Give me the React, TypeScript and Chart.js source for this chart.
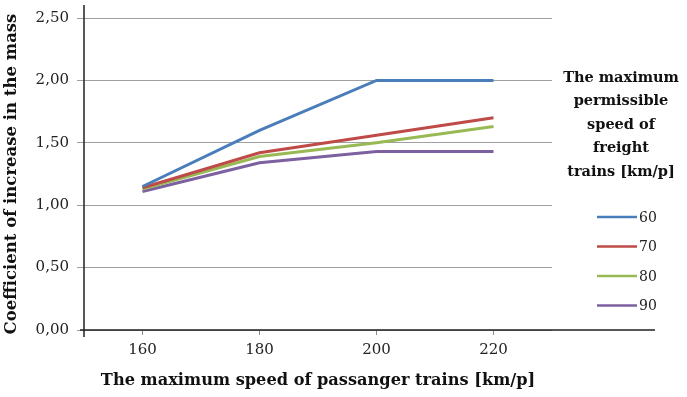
import React, { useEffect, useRef } from "react";
import { Chart, registerables } from "chart.js";

Chart.register(...registerables);

// Passenger train speeds on the category axis
const passengerSpeeds = ["160", "180", "200", "220"];
// Freight train speed for each series
const freightSpeeds = ["60", "70", "80", "90"];
// Coefficient of increase in the mass, one array per freight speed
const coef60 = [1.15, 1.6, 2.0, 2.0];
const coef70 = [1.14, 1.42, 1.56, 1.7];
const coef80 = [1.13, 1.39, 1.5, 1.63];
const coef90 = [1.11, 1.34, 1.43, 1.43];
const seriesColors = ["#4A7EBB", "#BE4B48", "#98B954", "#7D60A0"];

const legendTitleLines = ["The maximum", "permissible", "speed of", "freight", "trains [km/p]"];
const yTitle = "Coefficient of increase in the mass";
const xTitle = "The maximum speed of passanger trains [km/p]";

const SERIF = "'DejaVu Serif', 'Liberation Serif', serif";

// Draws the axis lines and the side legend with its multi-line title
const sideLegend = {
  id: "sideLegend",
  afterDraw(chart: any) {
    const { ctx, chartArea } = chart;
    const { left, right, top, bottom } = chartArea;
    ctx.save();

    // axis lines
    ctx.strokeStyle = "#222";
    ctx.lineWidth = 1.5;
    ctx.beginPath();
    ctx.moveTo(left, top - 13);
    ctx.lineTo(left, bottom + 7);
    ctx.moveTo(left - 4, bottom);
    ctx.lineTo(right + 103, bottom);
    ctx.stroke();

    // legend title
    const cx = right + 69;
    ctx.fillStyle = "#111";
    ctx.font = `bold 14.5px ${SERIF}`;
    ctx.textAlign = "center";
    ctx.textBaseline = "middle";
    legendTitleLines.forEach((line, i) => {
      ctx.fillText(line, cx, 78 + i * 23.5);
    });

    // legend entries
    ctx.font = `14px ${SERIF}`;
    ctx.textAlign = "left";
    chart.data.datasets.forEach((ds: any, i: number) => {
      const y = 217 + i * 29.5;
      ctx.strokeStyle = ds.borderColor;
      ctx.lineWidth = 2.5;
      ctx.beginPath();
      ctx.moveTo(right + 45, y);
      ctx.lineTo(right + 85, y);
      ctx.stroke();
      ctx.fillStyle = "#222";
      ctx.fillText(ds.label, right + 87, y + 1);
    });
    ctx.restore();
  },
};

export default function App() {
  const canvasRef = useRef<HTMLCanvasElement | null>(null);

  useEffect(() => {
    const canvas = canvasRef.current;
    if (!canvas) return;
    const seriesValues = [coef60, coef70, coef80, coef90];
    const chart = new Chart(canvas, {
      type: "line",
      data: {
        labels: passengerSpeeds,
        datasets: freightSpeeds.map((label, i) => ({
          label,
          data: seriesValues[i],
          borderColor: seriesColors[i],
          backgroundColor: seriesColors[i],
          borderWidth: 3,
          pointRadius: 0,
          tension: 0,
        })),
      },
      options: {
        animation: false,
        responsive: false,
        layout: { padding: { top: 18, right: 135, left: 0, bottom: 0 } },
        plugins: {
          legend: { display: false },
          tooltip: { enabled: false },
        },
        scales: {
          x: {
            offset: true,
            grid: {
              offset: false,
              drawOnChartArea: false,
              drawTicks: true,
              tickLength: 5,
              color: "#888",
            },
            border: { display: false },
            ticks: {
              padding: 6,
              color: "#222",
              font: { family: SERIF, size: 15 },
            },
            title: {
              display: true,
              text: xTitle,
              color: "#111",
              font: { family: SERIF, size: 16.2, weight: "bold" },
              padding: { top: 0, bottom: 6 },
            },
            afterFit(scale: any) {
              scale.height = 67;
            },
          },
          y: {
            min: 0,
            max: 2.5,
            ticks: {
              stepSize: 0.5,
              padding: 8,
              color: "#222",
              font: { family: SERIF, size: 15 },
              callback: (v: any) => Number(v).toFixed(2).replace(".", ","),
            },
            grid: {
              color: "#A0A0A0",
              lineWidth: 1,
              tickLength: 7,
            },
            border: { display: false },
            title: {
              display: true,
              text: yTitle,
              color: "#111",
              font: { family: SERIF, size: 16.5, weight: "bold" },
              padding: { top: 2, bottom: 0 },
            },
            afterFit(scale: any) {
              scale.width = 84;
            },
          },
        },
      },
      plugins: [sideLegend],
    });
    return () => chart.destroy();
  }, []);

  return (
    <div style={{ position: "absolute", left: 0, top: 0, width: 687, height: 397, background: "#fff" }}>
      <canvas ref={canvasRef} width={687} height={397} />
    </div>
  );
}
